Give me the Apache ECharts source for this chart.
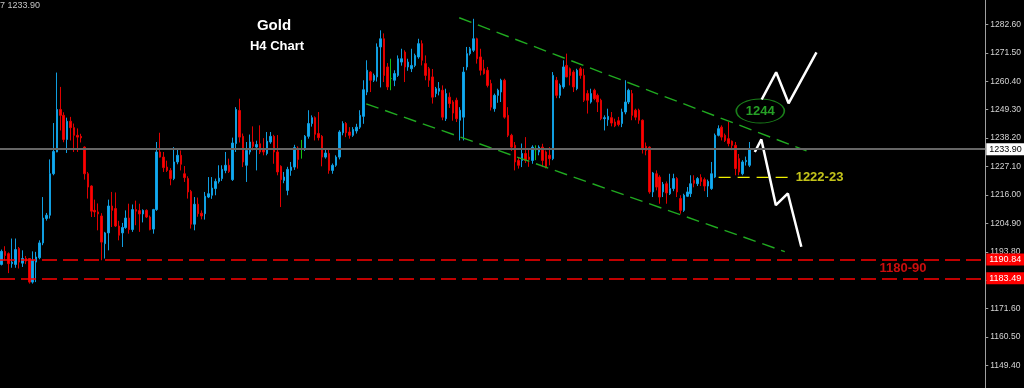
<!DOCTYPE html>
<html>
<head>
<meta charset="utf-8">
<script src="https://cdn.jsdelivr.net/npm/echarts@6/dist/echarts.min.js"></script>
<style>
html,body{margin:0;padding:0;background:#000;overflow:hidden;width:1024px;height:388px;}
#chart{position:absolute;left:0;top:-4px;width:1024px;height:398px;}
</style>
</head>
<body>
<div id="chart"></div>
<script>
// ---- data ----
const slotCount = 286; // bar slots incl. right-side chart shift
const categories = Array.from({length: slotCount}, (_, i) => 'H4 #' + (i + 1));
// [open, close, low, high]
const candles = [
[1188.9,1194.0,1188.5,1194.7],[1194.0,1192.4,1190.5,1196.0],[1193.1,1189.2,1185.5,1193.6],[1189.2,1189.8,1187.6,1199.0],
[1188.9,1194.7,1187.6,1199.0],[1195.1,1189.8,1187.3,1195.7],[1189.4,1191.2,1187.9,1194.4],[1191.2,1190.2,1189.0,1192.2],
[1191.2,1182.0,1181.4,1191.3],[1182.0,1190.5,1181.4,1194.0],[1189.8,1191.8,1182.0,1193.8],[1191.5,1197.3,1190.9,1198.3],
[1197.3,1207.0,1196.4,1215.2],[1206.8,1208.1,1206.0,1209.0],[1208.1,1224.3,1206.8,1229.9],[1224.3,1233.0,1223.7,1244.1],
[1232.8,1249.4,1232.7,1263.8],[1249.4,1247.1,1241.2,1258.2],[1247.1,1237.7,1236.6,1248.3],[1237.7,1244.8,1232.4,1246.2],
[1244.8,1242.3,1237.3,1246.5],[1242.3,1239.3,1232.8,1243.9],[1239.3,1238.6,1232.8,1242.0],[1238.9,1238.3,1236.5,1239.9],
[1234.7,1224.3,1222.0,1235.0],[1224.3,1219.1,1214.6,1225.0],[1219.5,1209.7,1207.4,1219.8],[1210.0,1209.4,1207.4,1214.2],
[1209.4,1208.6,1202.2,1212.7],[1207.8,1197.6,1190.5,1208.9],[1197.0,1201.2,1191.2,1201.6],[1201.2,1211.7,1194.4,1214.2],
[1211.7,1210.0,1203.5,1217.2],[1210.7,1203.9,1203.5,1217.0],[1203.9,1200.3,1198.3,1205.9],[1201.2,1203.3,1195.7,1205.1],
[1203.3,1207.0,1202.8,1210.0],[1207.0,1202.5,1200.9,1212.6],[1202.5,1210.3,1201.6,1212.3],[1210.3,1209.7,1204.2,1213.8],
[1209.9,1208.6,1201.6,1212.6],[1208.6,1210.0,1205.3,1210.4],[1210.0,1207.4,1207.0,1210.4],[1207.4,1202.5,1202.2,1208.0],
[1202.7,1210.3,1200.9,1210.6],[1210.3,1232.8,1209.8,1236.7],[1232.8,1230.8,1230.6,1240.3],[1230.8,1226.7,1225.0,1232.8],
[1226.9,1225.6,1225.0,1229.4],[1225.6,1222.4,1219.8,1226.5],[1222.4,1228.9,1221.8,1234.7],[1228.9,1231.5,1228.0,1234.0],
[1231.5,1228.0,1225.6,1233.4],[1224.3,1222.8,1221.1,1227.3],[1222.4,1217.2,1214.6,1223.3],[1217.4,1204.6,1202.9,1218.0],
[1204.6,1212.4,1202.2,1215.2],[1212.4,1208.7,1207.5,1215.0],[1208.9,1207.8,1206.5,1210.0],[1208.7,1215.5,1206.4,1217.2],
[1215.2,1216.5,1214.8,1223.0],[1215.9,1218.7,1214.5,1223.0],[1218.5,1221.3,1215.9,1222.4],[1221.3,1222.6,1220.5,1227.6],
[1222.4,1226.0,1221.5,1227.6],[1225.6,1227.6,1224.5,1232.8],[1227.6,1225.2,1224.6,1230.2],[1222.0,1236.3,1221.5,1238.4],
[1236.1,1249.4,1232.8,1250.3],[1249.0,1238.6,1236.5,1253.6],[1238.9,1228.9,1226.9,1240.0],[1227.6,1233.4,1221.1,1236.7],
[1232.8,1236.7,1231.8,1239.6],[1236.7,1235.0,1233.4,1242.8],[1234.7,1235.7,1225.6,1237.2],[1236.0,1232.8,1232.0,1243.2],
[1234.0,1232.8,1231.5,1238.2],[1232.2,1237.0,1231.5,1240.6],[1236.7,1238.9,1236.0,1240.6],[1238.9,1232.8,1228.2,1239.5],
[1232.8,1225.0,1223.7,1239.4],[1227.2,1222.0,1211.3,1227.6],[1221.7,1223.0,1220.6,1225.0],[1217.8,1226.0,1215.9,1227.0],
[1225.6,1226.9,1223.5,1228.9],[1226.9,1234.5,1225.8,1235.6],[1234.3,1229.9,1226.3,1235.0],[1234.0,1234.0,1230.2,1237.5],
[1234.1,1238.9,1233.2,1239.4],[1238.9,1243.9,1238.0,1249.1],[1243.9,1246.2,1242.7,1247.1],[1246.2,1239.7,1237.3,1246.7],
[1240.0,1238.4,1237.3,1248.4],[1238.9,1230.8,1227.2,1239.4],[1230.8,1232.4,1230.2,1234.0],[1232.2,1225.6,1224.3,1234.0],
[1225.6,1227.6,1224.3,1228.3],[1227.6,1230.8,1227.0,1231.5],[1230.8,1240.6,1229.9,1241.3],[1240.3,1243.9,1239.3,1244.8],
[1243.9,1240.3,1238.6,1244.5],[1240.6,1239.3,1238.0,1242.5],[1239.3,1241.6,1238.7,1242.5],[1241.0,1242.5,1240.0,1243.8],
[1242.5,1247.1,1241.8,1249.1],[1246.7,1257.1,1243.8,1260.8],[1256.2,1264.7,1255.0,1268.6],[1264.0,1260.8,1256.2,1264.4],
[1260.8,1262.7,1260.1,1263.4],[1262.1,1273.8,1260.3,1275.2],[1273.8,1277.0,1258.0,1280.3],[1277.0,1262.7,1260.1,1279.1],
[1266.0,1258.2,1257.0,1267.5],[1261.5,1261.5,1256.9,1269.2],[1260.8,1263.4,1258.5,1264.7],[1262.7,1269.2,1262.1,1270.5],
[1267.9,1269.2,1266.5,1273.1],[1271.8,1266.0,1260.1,1272.5],[1266.0,1267.9,1264.5,1269.2],[1265.3,1266.6,1264.0,1273.1],
[1266.6,1270.5,1265.9,1271.2],[1269.9,1275.1,1269.2,1277.0],[1275.1,1268.6,1266.6,1276.4],[1267.3,1262.7,1260.8,1270.5],
[1265.3,1260.8,1258.2,1266.0],[1262.1,1254.2,1251.7,1265.2],[1255.6,1257.5,1254.2,1258.2],[1256.5,1257.6,1254.9,1260.1],
[1256.9,1246.4,1245.2,1258.8],[1245.8,1255.6,1244.9,1257.5],[1254.2,1251.7,1250.0,1256.0],[1252.3,1248.0,1245.0,1253.0],
[1253.0,1245.8,1244.5,1254.0],[1245.2,1249.1,1237.3,1250.3],[1246.4,1264.0,1237.3,1266.0],[1266.0,1271.2,1264.7,1273.8],
[1271.2,1273.1,1270.5,1273.8],[1272.5,1277.0,1271.8,1284.8],[1277.0,1269.2,1267.3,1277.4],[1269.9,1264.7,1262.7,1273.1],
[1265.3,1263.4,1263.0,1268.8],[1264.7,1258.8,1258.0,1266.0],[1259.5,1250.3,1249.0,1261.0],[1249.7,1254.9,1248.5,1255.6],
[1254.9,1256.9,1252.0,1257.5],[1256.2,1260.8,1252.3,1261.4],[1260.8,1246.4,1245.8,1261.4],[1247.1,1239.3,1238.6,1250.3],
[1239.3,1234.7,1233.2,1239.9],[1235.4,1228.9,1225.6,1236.7],[1229.5,1227.6,1226.3,1230.8],[1229.5,1232.2,1226.9,1236.1],
[1232.2,1229.5,1228.5,1238.6],[1230.8,1229.9,1227.0,1234.0],[1229.5,1234.7,1228.2,1235.4],[1233.7,1233.7,1229.6,1235.4],
[1232.8,1234.7,1231.5,1235.4],[1234.7,1229.5,1226.9,1236.0],[1232.8,1226.9,1226.4,1233.4],[1231.5,1230.2,1227.6,1234.7],
[1230.2,1262.7,1229.6,1264.0],[1260.8,1254.9,1253.8,1262.1],[1254.9,1258.8,1253.8,1259.5],[1258.2,1266.0,1257.5,1268.6],
[1266.6,1262.1,1262.0,1271.2],[1265.3,1262.7,1258.8,1265.8],[1264.0,1258.2,1256.2,1264.7],[1257.5,1264.7,1256.9,1265.3],
[1265.3,1262.7,1261.4,1266.0],[1262.7,1253.0,1252.3,1265.3],[1255.6,1253.0,1247.8,1256.9],[1252.3,1255.6,1251.7,1257.5],
[1256.9,1253.6,1253.0,1257.5],[1254.9,1252.3,1248.4,1255.6],[1253.0,1245.8,1245.2,1253.6],[1245.8,1246.2,1241.2,1247.1],
[1245.4,1246.7,1243.0,1249.7],[1246.2,1244.1,1242.8,1248.4],[1244.5,1243.0,1242.5,1245.8],[1245.0,1243.5,1242.8,1246.5],
[1243.9,1248.4,1242.5,1249.7],[1248.4,1252.3,1247.5,1260.8],[1252.3,1256.9,1251.5,1257.5],[1255.6,1247.1,1245.2,1257.0],
[1249.1,1246.4,1245.2,1249.7],[1249.1,1245.2,1243.8,1249.7],[1245.2,1234.1,1232.2,1245.5],[1235.0,1233.4,1231.5,1236.5],
[1234.7,1217.2,1216.5,1235.0],[1217.2,1224.6,1215.2,1225.0],[1224.3,1219.1,1217.8,1225.6],[1223.0,1215.2,1212.6,1223.7],
[1217.2,1220.2,1215.2,1221.1],[1220.4,1216.8,1212.6,1221.3],[1216.5,1218.5,1216.0,1224.3],[1218.5,1222.4,1217.5,1224.3],
[1222.4,1217.2,1215.2,1223.0],[1214.6,1210.0,1208.7,1215.9],[1210.0,1215.9,1209.4,1216.5],[1215.5,1217.2,1215.2,1219.1],
[1216.5,1220.4,1215.2,1223.7],[1221.7,1220.6,1219.0,1223.7],[1220.4,1222.4,1219.5,1223.0],[1222.8,1221.3,1219.5,1224.1],
[1222.0,1219.5,1217.5,1222.8],[1219.5,1221.3,1215.2,1222.0],[1218.5,1224.3,1218.0,1228.9],[1223.0,1239.3,1222.6,1240.0],
[1239.3,1241.9,1238.9,1243.2],[1242.5,1238.6,1237.3,1243.2],[1239.3,1237.3,1236.7,1240.0],[1238.0,1236.1,1235.0,1244.5],
[1237.0,1235.4,1233.5,1237.3],[1235.4,1226.3,1223.7,1236.7],[1230.2,1225.0,1223.7,1232.0],[1224.3,1228.9,1223.7,1229.6],
[1229.0,1229.5,1227.5,1231.0],[1227.6,1233.9,1226.9,1236.7]
];
// y-axis ticks
const yTickMin = 1138.3, yTickMax = 1293.7, yTickStep = 11.1;
// horizontal levels
const lastPrice = 1233.90;
const supportLevels = [1190.84, 1183.49];
// drawn objects, as [bar index, price]
const upperChannel = [[132.8, 1285.2], [233.6, 1233.2]];
const lowerChannel = [[105.8, 1251.6], [227.3, 1193.9]];
const level122223 = [[208.1, 1222.9], [229.3, 1222.9]];
const bullPath = [[220.6, 1253.3], [224.8, 1263.9], [228.4, 1251.8], [236.5, 1271.7]];
const bearPath = [[218.6, 1232.8], [220.5, 1237.7], [224.7, 1212.05], [228.2, 1216.6], [232.1, 1195.8]];
const targetBubble = [[220.2, 1248.8, '1244']];
const levelText = [[229.3, 1222.9, '1222-23']];
const zoneText = [[261.6, 1187.5, '1180-90']];

const chart = echarts.init(document.getElementById('chart'), null, {renderer: 'canvas'});
const font = 'Liberation Sans, Arial, sans-serif';
const axisBox = (bg, fg, txt) => ({
  show: true, position: 'end', distance: 1, backgroundColor: bg, color: fg,
  fontFamily: font, fontSize: 9, padding: [2, 3, 1, 3], borderRadius: 0, formatter: txt
});

chart.setOption({
  animation: false,
  backgroundColor: '#000',
  grid: {left: 0, right: 37, top: 0, bottom: 0},
  xAxis: [
    {type: 'category', data: categories, boundaryGap: true, show: false},
    {type: 'value', min: -0.5, max: slotCount - 0.5, show: false}
  ],
  yAxis: {
    type: 'value', position: 'right', min: yTickMin, max: yTickMax, interval: yTickStep,
    splitLine: {show: false},
    axisLine: {show: true, onZero: false, lineStyle: {color: '#a0a0a0', width: 1}},
    axisTick: {show: true, length: 3, lineStyle: {color: '#a0a0a0'}},
    axisLabel: {
      color: '#d4d4d4', fontFamily: font, fontSize: 8.5, margin: 5,
      showMinLabel: false, showMaxLabel: false,
      formatter: v => v.toFixed(2)
    }
  },
  graphic: [
    {type: 'text', left: 0, top: 5, style: {text: '7 1233.90', fill: '#c4c4c4', font: '9px ' + font}},
    {type: 'text', x: 274, y: 30, style: {text: 'Gold', fill: '#fff', font: 'bold 15px ' + font, align: 'center', verticalAlign: 'middle'}},
    {type: 'text', x: 277, y: 50, style: {text: 'H4 Chart', fill: '#fff', font: 'bold 13px ' + font, align: 'center', verticalAlign: 'middle'}}
  ],
  series: [
    {
      type: 'candlestick', name: 'Gold H4', data: candles,
      barWidth: 2,
      itemStyle: {
        color: '#10aaf2', color0: '#ff0000',
        borderColor: '#109ee0', borderColor0: '#e00000',
        borderColorDoji: '#13c013', borderWidth: 1
      },
      markLine: {
        silent: true, symbol: ['none', 'none'],
        lineStyle: {color: '#666666', width: 2, type: 'solid'},
        label: axisBox('#ffffff', '#000000', lastPrice.toFixed(2)),
        data: [{yAxis: lastPrice}]
      }
    },
    {type: 'line', xAxisIndex: 1, data: upperChannel, symbol: 'none', silent: true,
     lineStyle: {color: '#20aa20', width: 1.4, type: [13, 7]}},
    {type: 'line', xAxisIndex: 1, data: lowerChannel, symbol: 'none', silent: true,
     lineStyle: {color: '#20aa20', width: 1.4, type: [13, 7]}},
    {type: 'line', xAxisIndex: 1, data: level122223, symbol: 'none', silent: true,
     lineStyle: {color: '#f0f000', width: 1.4, type: [12, 7]}},
    {type: 'line', xAxisIndex: 1, data: bullPath, symbol: 'none', silent: true,
     lineStyle: {color: '#ffffff', width: 2.5}},
    {type: 'line', xAxisIndex: 1, data: bearPath, symbol: 'none', silent: true,
     lineStyle: {color: '#ffffff', width: 2.5}},
    {type: 'scatter', xAxisIndex: 1, data: targetBubble, symbol: 'circle', symbolSize: [48, 24], silent: true,
     itemStyle: {color: 'rgba(0,0,0,0)', borderColor: '#20a020', borderWidth: 1.2},
     label: {show: true, position: 'inside', formatter: p => p.data[2], color: '#30c830', fontFamily: font, fontWeight: 'bold', fontSize: 13}},
    {type: 'scatter', xAxisIndex: 1, data: levelText, symbolSize: 0, silent: true,
     label: {show: true, position: 'right', distance: 4, formatter: p => p.data[2], color: '#f4f420', fontFamily: font, fontWeight: 'bold', fontSize: 13}},
    {type: 'scatter', xAxisIndex: 1, data: zoneText, symbolSize: 0, silent: true,
     label: {show: true, position: 'inside', formatter: p => p.data[2], color: '#ff1010', fontFamily: font, fontWeight: 'bold', fontSize: 13},
     markLine: {
       silent: true, symbol: ['none', 'none'],
       lineStyle: {color: '#ff0000', width: 1.6, type: [15, 6], opacity: 1},
       data: [
         {yAxis: supportLevels[0], label: axisBox('#ff0000', '#ffffff', supportLevels[0].toFixed(2))},
         {yAxis: supportLevels[1], label: axisBox('#ff0000', '#ffffff', supportLevels[1].toFixed(2))}
       ]
     }}
  ]
});
</script>
</body>
</html>
